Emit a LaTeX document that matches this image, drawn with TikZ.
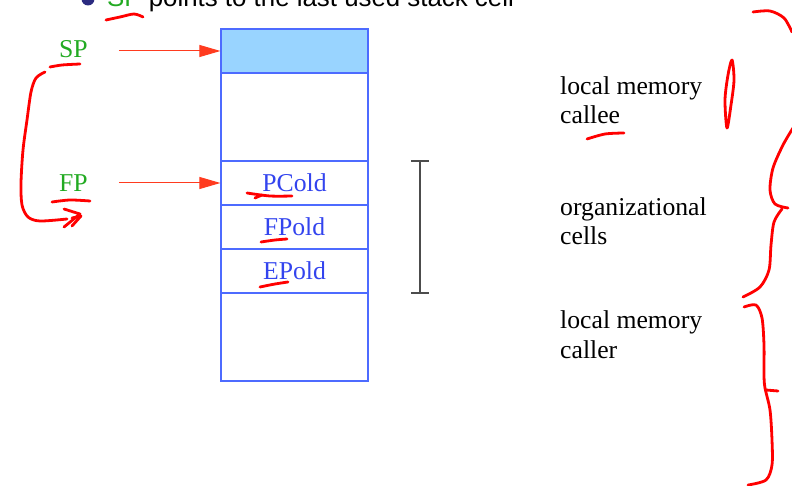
\documentclass[tikz,border=0pt]{standalone}
\usepackage{fontspec}
\setmainfont{Liberation Serif}
\newfontfamily\arialfont{Liberation Sans}
\usetikzlibrary{arrows.meta}
\definecolor{cellblue}{HTML}{99D4FF}
\definecolor{cellline}{HTML}{4D6BFF}
\definecolor{celltext}{HTML}{3344EE}
\definecolor{spgreen}{HTML}{22AA22}
\definecolor{ptrred}{HTML}{FF3B1F}
\definecolor{ballblue}{HTML}{2B2B80}
\definecolor{inkred}{HTML}{FF0000}
\tikzset{
  bigfont/.style={font=\fontsize{25.7}{29.5}\selectfont},
  cell/.style={draw=cellline, line width=1.2pt, minimum width=147pt, inner sep=0pt, bigfont, text=celltext},
  reglabel/.style={bigfont, text=spgreen, inner sep=0pt, anchor=base west},
  ptr/.style={draw=ptrred, line width=1pt, -{Triangle[length=21pt,width=12pt]}},
  note/.style={bigfont, align=left, inner sep=0pt, anchor=base west},
  brk/.style={draw=black!70, line width=1.4pt},
  ink/.style={draw=inkred, line width=2.8pt, line cap=round, line join=round}
}
\begin{document}
\begin{tikzpicture}[x=1pt,y=-1pt]
\useasboundingbox (0,0) rectangle (792,486);
\clip (0,0) rectangle (792,486);
% top line (cut off)
\fill[ballblue] (88,-1) circle (6.5);
\node[anchor=base west, inner sep=0pt, font=\arialfont\fontsize{25.85}{30}\selectfont] (topline) at (107,7) {\textcolor{spgreen}{SP} points to the last used stack cell};
% stack cells
\node[cell, fill=cellblue, minimum height=44pt] (c0) at (294.5,51) {};
\node[cell, minimum height=88pt] (c1) at (294.5,117) {};
\node[cell, minimum height=44pt] (c2) at (294.5,183) {PCold};
\node[cell, minimum height=44pt] (c3) at (294.5,227) {FPold};
\node[cell, minimum height=44pt] (c4) at (294.5,271) {EPold};
\node[cell, minimum height=88pt] (c5) at (294.5,337) {};
% registers
\node[reglabel] (SP) at (59,58) {SP};
\node[reglabel] (FP) at (59,192) {FP};
\draw[ptr] ([xshift=31pt]SP.east |- c0.west) -- (c0.west);
\draw[ptr] ([xshift=31pt]FP.east |- c2.west) -- (c2.west);
% bracket
\draw[brk] (420,161) -- (420,293);
\draw[brk] (411,161) -- (429,161);
\draw[brk] (411,293) -- (429,293);
% notes (base anchor = last line's baseline)
\node[note] (n1) at (560,124) {local memory\\callee};
\node[note] (n2) at (560,245) {organizational\\cells};
\node[note] (n3) at (560,358) {local memory\\caller};
% red handwritten marks
\draw[ink] plot[smooth] coordinates {(106,20) (120,17) (134,14) (143,17)};
\draw[ink] plot[smooth] coordinates {(50,67) (62,65) (80,64)};
\draw[ink] plot[smooth] coordinates {(45,72) (36,78) (31,92) (27,120) (23,150) (21,183) (22,205) (28,217) (40,221) (67,219)};
\draw[ink] (64,209) -- (80,214) -- (64,227);
\draw[ink] (72,218) -- (81,216) -- (72,226);
\draw[ink] plot[smooth] coordinates {(52,202) (70,200) (90,201)};
\draw[ink] plot[smooth] coordinates {(247,193) (270,196) (292,196)};
\draw[ink] (255,198) -- (262,195);
\draw[ink] plot[smooth] coordinates {(261,242) (275,240) (287,239)};
\draw[ink] plot[smooth] coordinates {(260,287) (275,284) (288,282)};
\draw[ink] plot[smooth] coordinates {(587,139) (605,134) (624,133)};
\draw[ink] plot[smooth cycle] coordinates {(732,60) (734,80) (731,105) (727,128) (725,100) (728,75)};
\draw[ink] plot[smooth] coordinates {(753,12) (770,11) (784,18) (792,32)};
\draw[ink] plot[smooth] coordinates {(793,128) (783,145) (773,168) (770,190) (775,204) (788,208)};
\draw[ink] plot[smooth] coordinates {(782,209) (774,222) (771,245) (769,270) (760,287) (743,297)};
\draw[ink] plot[smooth] coordinates {(744,307) (756,305) (762,318) (764,345) (764,375) (765,388) (770,410) (772,440) (772,465) (766,480) (748,485)};
\draw[ink] (766,390) -- (778,391);
\end{tikzpicture}
\end{document}
